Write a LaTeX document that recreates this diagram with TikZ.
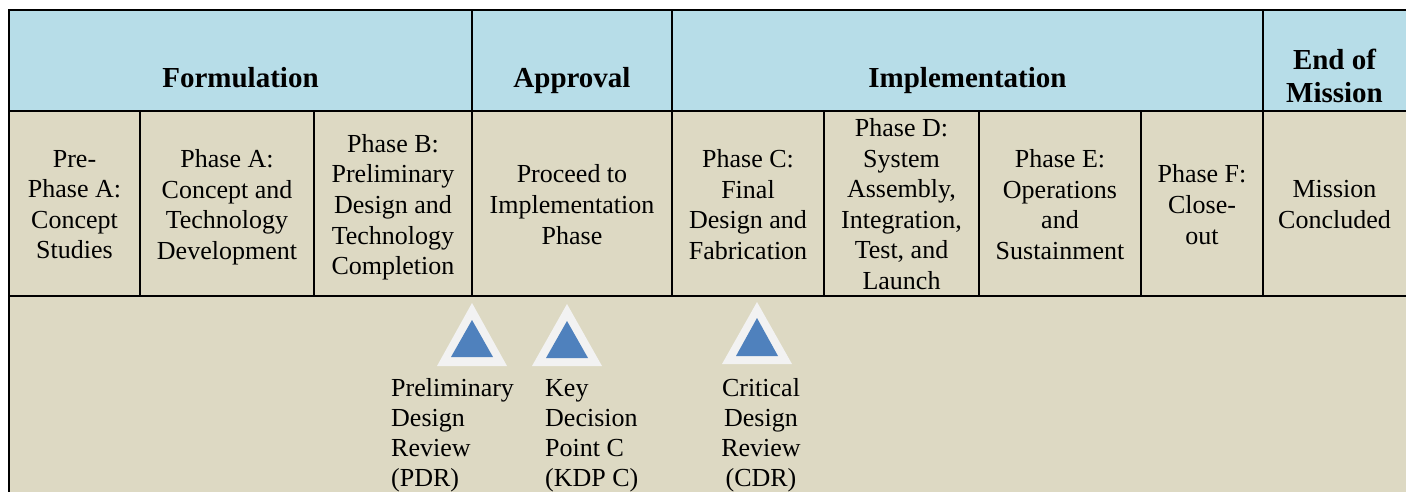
\documentclass[tikz,border=0pt]{standalone}
\usepackage{fontspec}
\setmainfont{Liberation Serif}
\definecolor{hdrblue}{HTML}{B7DDE8}
\definecolor{tanbg}{HTML}{DDD9C3}
\definecolor{triblue}{HTML}{4F81BD}
\definecolor{tririm}{HTML}{F2F2F2}
\begin{document}
\begin{tikzpicture}[x=1pt,y=-1pt,
  hdr/.style={font=\fontsize{29}{33}\selectfont\bfseries, align=center, inner sep=0pt,
    execute at begin node=\strut, execute at end node=\strut},
  cell/.style={font=\fontsize{26}{30.6}\selectfont, align=center, inner sep=0pt,
    execute at begin node=\strut, execute at end node=\strut},
  ms/.style={font=\fontsize{26}{30}\selectfont, inner sep=0pt,
    execute at begin node=\strut, execute at end node=\strut},
  gridline/.style={line width=2pt, black},
  rim/.style={fill=tririm},
  core/.style={fill=triblue}]
\useasboundingbox (0,0) rectangle (1406,491);
\fill[white] (0,0) rectangle (1406,491);
\fill[hdrblue] (9,10) rectangle (1406,110.5);
\fill[tanbg] (9,110.5) rectangle (1406,495);
% grid
\draw[gridline] (1410,10) -- (9,10) -- (9,495);
\draw[gridline] (9,110.5) -- (1410,110.5);
\draw[gridline] (9,295.5) -- (1410,295.5);
\foreach \x in {472,672,1263} \draw[gridline] (\x,10) -- (\x,295.5);
\foreach \x in {140.3,314.2,824.2,979.2,1141} \draw[gridline] (\x,110.5) -- (\x,295.5);
% header texts
\node[hdr] (formulation) at (240.5,80.4) {Formulation};
\node[hdr] (approval) at (572,80.4) {Approval};
\node[hdr] (implementation) at (967.5,80.4) {Implementation};
\node[hdr] (endmission) at (1334.5,80.5) {End of\\Mission};
% phase texts
\node[cell] (prea) at (74.5,209) {Pre-\\Phase A:\\Concept\\Studies};
\node[cell] (phasea) at (227,209) {Phase A:\\Concept and\\Technology\\Development};
\node[cell] (phaseb) at (393,209) {Phase B:\\Preliminary\\Design and\\Technology\\Completion};
\node[cell] (proceed) at (572,209) {Proceed to\\Implementation\\Phase};
\node[cell] (phasec) at (748,209) {Phase C:\\Final\\Design and\\Fabrication};
\node[cell] (phased) at (901.5,208.5) {Phase D:\\System\\Assembly,\\Integration,\\Test, and\\Launch};
\node[cell] (phasee) at (1060,209) {Phase E:\\Operations\\and\\Sustainment};
\node[cell] (phasef) at (1202,209) {Phase F:\\Close-\\out};
\node[cell] (mission) at (1334.5,209) {Mission\\Concluded};
% milestone triangles
\fill[rim] (437,366) -- (472,303) -- (507,366) -- cycle;
\fill[core] (451,357) -- (472,320) -- (493,357) -- cycle;
\fill[rim] (532,366) -- (567,304) -- (602,366) -- cycle;
\fill[core] (546,358) -- (567,321) -- (588,358) -- cycle;
\fill[rim] (722,364) -- (757,302) -- (792,364) -- cycle;
\fill[core] (736,356) -- (757,318) -- (778,356) -- cycle;
% milestone labels
\node[ms, anchor=west, align=left] (pdr) at (391,437) {Preliminary\\Design\\Review\\(PDR)};
\node[ms, anchor=west, align=left] (kdpc) at (545,437) {Key\\Decision\\Point C\\(KDP C)};
\node[ms, align=center] (cdr) at (761,437) {Critical\\Design\\Review\\(CDR)};
\end{tikzpicture}
\end{document}
